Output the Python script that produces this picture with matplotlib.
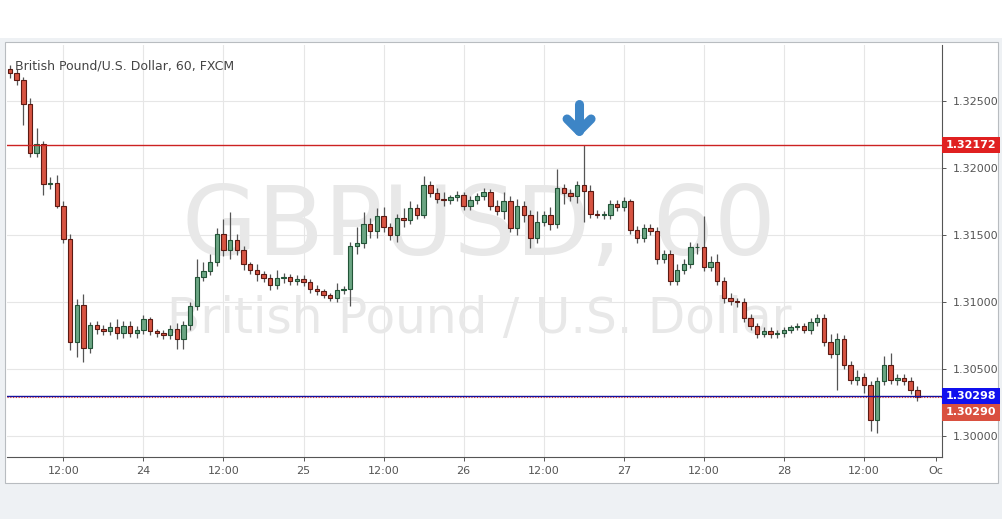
import matplotlib
matplotlib.use("Agg")
import matplotlib.pyplot as plt
from matplotlib.patches import Rectangle

# --- Data (hourly GBP/USD) ---
opens = [1.3274, 1.3271, 1.3266, 1.3248, 1.3211, 1.3218, 1.3188, 1.3189, 1.3172, 1.3147,
         1.3070, 1.3098, 1.3066, 1.3083, 1.3080, 1.3078, 1.3081, 1.3077, 1.3082, 1.3077,
         1.3079, 1.3087, 1.3078, 1.3077, 1.3075, 1.3080, 1.3072, 1.3083, 1.3097, 1.3119,
         1.3123, 1.3130, 1.3151, 1.3139, 1.3146, 1.3139, 1.3128, 1.3124, 1.3121, 1.3118,
         1.3113, 1.3118, 1.3119, 1.3116, 1.3117, 1.3115, 1.3110, 1.3108, 1.3105, 1.3103,
         1.3109, 1.3110, 1.3142, 1.3144, 1.3158, 1.3153, 1.3164, 1.3156, 1.3150, 1.3163,
         1.3161, 1.3170, 1.3165, 1.3187, 1.3181, 1.3177, 1.3176, 1.3178, 1.3180, 1.3172,
         1.3176, 1.3179, 1.3182, 1.3172, 1.3168, 1.3175, 1.3155, 1.3172, 1.3165, 1.3148,
         1.3160, 1.3165, 1.3158, 1.3185, 1.3181, 1.3179, 1.3187, 1.3183, 1.3166, 1.3165,
         1.3165, 1.3173, 1.3171, 1.3175, 1.3154, 1.3148, 1.3155, 1.3153, 1.3132, 1.3136,
         1.3116, 1.3124, 1.3128, 1.3141, 1.3141, 1.3126, 1.3130, 1.3116, 1.3103, 1.3101,
         1.3100, 1.3088, 1.3082, 1.3076, 1.3078, 1.3076, 1.3077, 1.3079, 1.3081, 1.3082,
         1.3079, 1.3085, 1.3088, 1.3070, 1.3061, 1.3072, 1.3053, 1.3042, 1.3044, 1.3038,
         1.3012, 1.3041, 1.3053, 1.3042, 1.3043, 1.3041, 1.3034]
closes = [1.3271, 1.3266, 1.3248, 1.3211, 1.3218, 1.3188, 1.3189, 1.3172, 1.3147, 1.3070,
          1.3098, 1.3066, 1.3083, 1.3080, 1.3078, 1.3081, 1.3077, 1.3082, 1.3077, 1.3079,
          1.3087, 1.3078, 1.3077, 1.3075, 1.3080, 1.3072, 1.3083, 1.3097, 1.3119, 1.3123,
          1.3130, 1.3151, 1.3139, 1.3146, 1.3139, 1.3128, 1.3124, 1.3121, 1.3118, 1.3113,
          1.3118, 1.3119, 1.3116, 1.3117, 1.3115, 1.3110, 1.3108, 1.3105, 1.3103, 1.3109,
          1.3110, 1.3142, 1.3144, 1.3158, 1.3153, 1.3164, 1.3156, 1.3150, 1.3163, 1.3161,
          1.3170, 1.3165, 1.3187, 1.3181, 1.3177, 1.3176, 1.3178, 1.3180, 1.3172, 1.3176,
          1.3179, 1.3182, 1.3172, 1.3168, 1.3175, 1.3155, 1.3172, 1.3165, 1.3148, 1.3160,
          1.3165, 1.3158, 1.3185, 1.3181, 1.3179, 1.3187, 1.3183, 1.3166, 1.3165, 1.3165,
          1.3173, 1.3171, 1.3175, 1.3154, 1.3148, 1.3155, 1.3153, 1.3132, 1.3136, 1.3116,
          1.3124, 1.3128, 1.3141, 1.3141, 1.3126, 1.3130, 1.3116, 1.3103, 1.3101, 1.3100,
          1.3088, 1.3082, 1.3076, 1.3078, 1.3076, 1.3077, 1.3079, 1.3081, 1.3082, 1.3079,
          1.3085, 1.3088, 1.3070, 1.3061, 1.3072, 1.3053, 1.3042, 1.3044, 1.3038, 1.3012,
          1.3041, 1.3053, 1.3042, 1.3043, 1.3041, 1.3034, 1.3029]
# wick lengths above / below body, in pips
wick_up = [3, 3, 2, 4, 12, 2, 4, 6, 3, 4,
           4, 8, 2, 3, 3, 4, 6, 4, 4, 3,
           3, 2, 2, 2, 3, 4, 3, 3, 13, 7,
           6, 4, 11, 21, 5, 3, 2, 4, 2, 3,
           6, 3, 2, 3, 3, 2, 3, 2, 2, 5,
           2, 3, 12, 9, 5, 6, 7, 3, 3, 7,
           5, 3, 7, 3, 4, 5, 2, 3, 2, 3,
           2, 3, 2, 4, 7, 4, 5, 3, 4, 8,
           3, 6, 14, 3, 3, 3, 30, 4, 3, 3,
           3, 3, 3, 2, 3, 3, 3, 3, 3, 3,
           4, 4, 4, 3, 23, 4, 6, 3, 4, 2,
           3, 3, 2, 3, 3, 2, 2, 2, 2, 2,
           3, 3, 3, 6, 5, 3, 3, 5, 3, 3,
           3, 7, 9, 3, 3, 3, 3]
wick_dn = [4, 4, 16, 3, 3, 8, 4, 2, 3, 6,
           11, 11, 4, 4, 3, 3, 5, 4, 3, 4,
           3, 3, 3, 3, 3, 7, 7, 4, 3, 3,
           3, 3, 5, 7, 4, 4, 3, 5, 3, 4,
           3, 4, 3, 3, 3, 3, 3, 2, 2, 3,
           3, 13, 6, 4, 5, 5, 4, 4, 5, 5,
           3, 3, 2, 3, 3, 4, 3, 3, 3, 3,
           3, 3, 3, 3, 6, 3, 5, 5, 8, 4,
           3, 4, 3, 8, 4, 5, 23, 3, 2, 3,
           3, 3, 3, 3, 4, 3, 3, 4, 3, 3,
           3, 3, 3, 5, 3, 3, 3, 4, 3, 4,
           3, 3, 3, 2, 3, 3, 3, 2, 2, 2,
           3, 3, 3, 3, 27, 3, 3, 4, 6, 8,
           10, 3, 3, 4, 3, 3, 3]

x_tick_pos = [8, 20, 32, 44, 56, 68, 80, 92, 104, 116, 128, 138.8]
x_tick_labels = ["12:00", "24", "12:00", "25", "12:00", "26", "12:00", "27",
                 "12:00", "28", "12:00", "Oc"]
y_ticks = [1.30000, 1.30500, 1.31000, 1.31500, 1.32000, 1.32500]

resistance = 1.32172
bid = 1.30298
last = 1.30290

# arrow marker: candle index and price span it covers
arrow_x = 85.3
arrow_top, arrow_tip, arrow_wing = 1.32478, 1.32276, 1.32366

UP_FACE, UP_EDGE = "#6ba583", "#225437"
DN_FACE, DN_EDGE = "#d75442", "#5b1a13"

fig = plt.figure(figsize=(10.02, 5.19), dpi=100)
fig.patch.set_facecolor("#eef1f4")

# white header strip and chart frame (behind the axes)
fig.add_artist(Rectangle((0, 1 - 38 / 519), 1, 38 / 519, transform=fig.transFigure,
                         facecolor="white", edgecolor="none", zorder=-2))
fig.add_artist(Rectangle((5 / 1002, 1 - 483 / 519), 993 / 1002, 441 / 519,
                         transform=fig.transFigure, facecolor="white",
                         edgecolor="#b8bcc0", linewidth=0.8, zorder=-1))

ax = fig.add_axes([7 / 1002, 1 - 457 / 519, 935 / 1002, 412 / 519])
ax.set_facecolor("white")
ax.set_xlim(-0.45, 139.7)
ax.set_ylim(1.29843, 1.32918)

for v in y_ticks:
    ax.axhline(v, color="#e6e6e6", linewidth=0.8, zorder=0)
for v in x_tick_pos[:-1]:
    ax.axvline(v, color="#e6e6e6", linewidth=0.8, zorder=0)

# watermark
ax.text(0.505, 0.555, "GBPUSD, 60", transform=ax.transAxes, ha="center", va="center",
        fontsize=70, color="#e8e8e8", zorder=0.5)
ax.text(0.505, 0.335, "British Pound / U.S. Dollar", transform=ax.transAxes, ha="center",
        va="center", fontsize=35, color="#e8e8e8", zorder=0.5)

# candles
pip = 0.0001
w = 0.66
for i, (o, c) in enumerate(zip(opens, closes)):
    up = c >= o
    face, edge = (UP_FACE, UP_EDGE) if up else (DN_FACE, DN_EDGE)
    top, bot = max(o, c), min(o, c)
    ax.vlines(i, bot - wick_dn[i] * pip, top + wick_up[i] * pip, color="#555555",
              linewidth=0.9, zorder=2)
    h = max(top - bot, 0.00004)
    ax.add_patch(Rectangle((i - w / 2, bot), w, h, facecolor=face, edgecolor=edge,
                           linewidth=0.8, zorder=3))

ax.axhline(resistance, color="#cc2222", linewidth=1.0, zorder=4)
ax.axhline(bid, color="#1010a0", linewidth=1.0, zorder=4)
ax.axhline(last, color="#d03030", linewidth=0.8, linestyle=(0, (1, 1.5)), zorder=4)

# blue down arrow (rounded chevron) above the spike
arrow_kw = dict(color="#3d85c6", linewidth=6.5, solid_capstyle="round",
                solid_joinstyle="round", zorder=5)
ax.plot([arrow_x, arrow_x], [arrow_top, arrow_tip], **arrow_kw)
ax.plot([arrow_x - 1.8, arrow_x, arrow_x + 1.8], [arrow_wing, arrow_tip, arrow_wing],
        **arrow_kw)

ax.set_xticks(x_tick_pos)
ax.set_xticklabels(x_tick_labels)
ax.yaxis.tick_right()
ax.set_yticks(y_ticks)
ax.set_yticklabels([f"{v:.5f}" for v in y_ticks])
ax.tick_params(axis="both", colors="#555555", labelsize=8, length=3, width=0.7)
ax.tick_params(axis="y", pad=5)
for s in ["top", "left"]:
    ax.spines[s].set_visible(False)
for s in ["right", "bottom"]:
    ax.spines[s].set_color("#555555")
    ax.spines[s].set_linewidth(0.8)

# price labels on the right axis
for val, col, dy in [(resistance, "#e02020", 0), (bid, "#1010ee", 0), (last, "#d9503f", -0.00113)]:
    ax.text(1.004, val + dy, f"{val:.5f}", transform=ax.get_yaxis_transform(),
            ha="left", va="center", fontsize=8, fontweight="bold", color="white",
            bbox=dict(boxstyle="square,pad=0.3", facecolor=col, edgecolor="none"),
            clip_on=False, zorder=6)

ax.text(0.009, 0.965, "British Pound/U.S. Dollar, 60, FXCM", transform=ax.transAxes,
        ha="left", va="top", fontsize=9, color="#444444")

fig.savefig("out.png", dpi=100, facecolor=fig.get_facecolor())
